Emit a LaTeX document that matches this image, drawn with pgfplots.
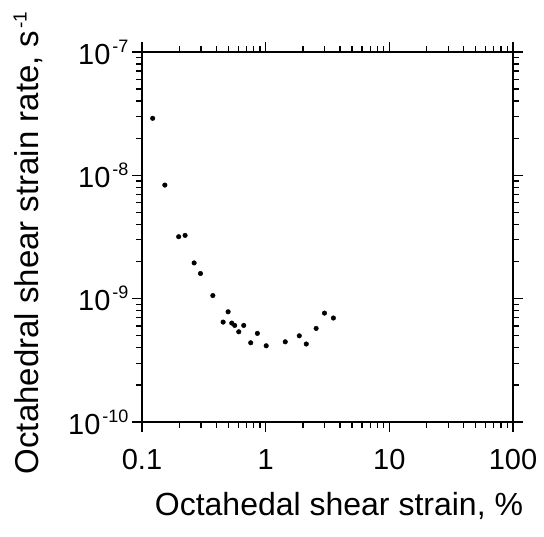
\documentclass[border=0pt]{standalone}
\usepackage{pgfplots}
\pgfplotsset{compat=1.18}
\usepackage{fontspec}
\setmainfont{Liberation Sans}
\newcommand\tp[1]{10\kern2pt\raisebox{12pt}{\fontsize{18}{18}\selectfont -#1}}
\begin{document}
\begin{tikzpicture}
\useasboundingbox (-142pt,-115pt) rectangle (402pt,422pt);
\begin{axis}[
  at={(0,0)}, anchor=south west,
  scale only axis, width=371pt, height=370pt,
  xmode=log, ymode=log,
  xmin=0.1, xmax=100, ymin=1e-10, ymax=1e-7,
  axis line style={line width=1.8pt},
  tick style={line width=1.3pt, black},
  tick align=outside,
  major tick length=10pt, minor tick length=6pt,
  xtick={0.1,1,10,100}, xticklabels={0.1,1,10,100},
  ytick={1e-10,1e-9,1e-8,1e-7},
  yticklabels={\tp{10},\tp{9},\tp{8},\tp{7}},
  /pgf/number format/assume math mode=true,
  tick label style={font=\fontsize{29}{33}\selectfont},
  xticklabel style={yshift=-14pt},
  xlabel={Octahedal shear strain, \%},
  ylabel={Octahedral shear strain rate, s\kern2pt\raisebox{12pt}{\fontsize{19}{19}\selectfont -1}},
  xlabel style={font=\fontsize{32}{36}\selectfont, at={(axis description cs:0.531,-0.254)}, anchor=base},
  ylabel style={font=\fontsize{33}{37}\selectfont, at={(axis description cs:-0.307,0.484)}, anchor=center, rotate=0},
]
\addplot[only marks, mark=*, mark size=2.3pt, black] coordinates {
(0.122,2.90e-8)
(0.153,8.34e-9)
(0.198,3.18e-9)
(0.223,3.26e-9)
(0.264,1.95e-9)
(0.297,1.60e-9)
(0.374,1.06e-9)
(0.497,7.83e-10)
(0.453,6.46e-10)
(0.532,6.34e-10)
(0.562,6.07e-10)
(0.665,6.07e-10)
(0.606,5.39e-10)
(0.757,4.39e-10)
(0.857,5.23e-10)
(1.01,4.15e-10)
(1.44,4.47e-10)
(1.87,5.0e-10)
(2.13,4.29e-10)
(2.56,5.74e-10)
(2.99,7.64e-10)
(3.53,6.97e-10)
};
\end{axis}
\end{tikzpicture}
\end{document}
